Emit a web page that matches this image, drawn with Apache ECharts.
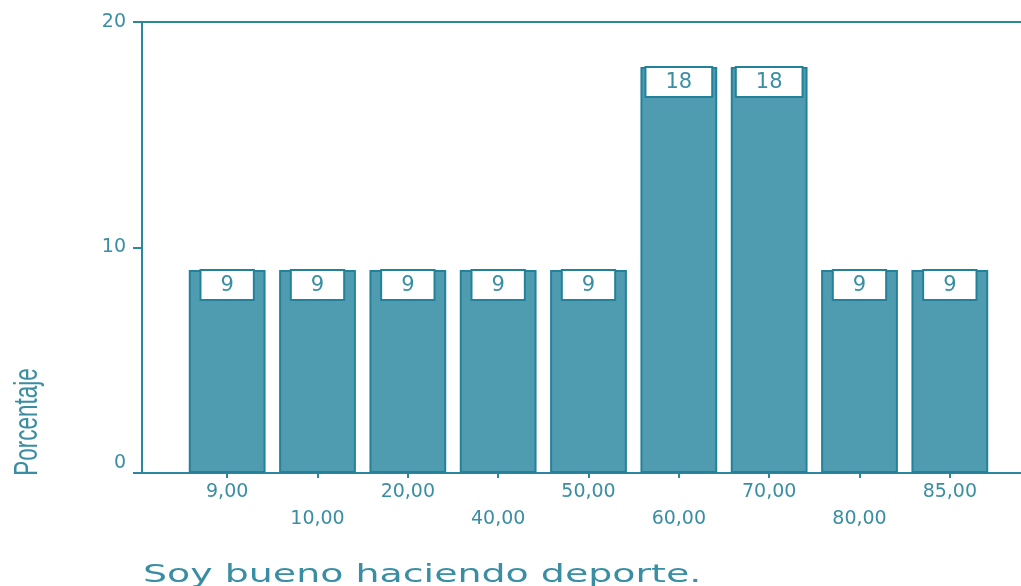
<!DOCTYPE html>
<html>
<head>
<meta charset="utf-8">
<script src="https://cdn.jsdelivr.net/npm/echarts@6/dist/echarts.min.js"></script>
<style>
  html, body { margin: 0; padding: 0; background: #fff; }
  #chart_bar { width: 1021px; height: 586px; }
</style>
</head>
<body>
<div id="chart_bar"></div>
<script>
let categories = ['9,00', '10,00', '20,00', '40,00', '50,00', '60,00', '70,00', '80,00', '85,00'];
let percents = [9, 9, 9, 9, 9, 18, 18, 9, 9];
let yTicks = [0, 10, 20];

let axisColor = '#2b879d';
let textColor = '#3a8ea3';

let chart_bar = document.getElementById("chart_bar");
let myChart = echarts.init(chart_bar);

let option = {
    animation: false,
    grid: [
        // bars
        {left: 182, right: 26, top: 22, bottom: 113},
        // frame (axis lines + y labels)
        {left: 142, right: 0, top: 22, bottom: 113}
    ],
    xAxis: [
        {
            type: 'category',
            gridIndex: 0,
            data: categories,
            axisLine: {show: false},
            axisTick: {show: true, alignWithLabel: true, length: 5, lineStyle: {color: axisColor, width: 2}},
            axisLabel: {
                interval: 0,
                margin: 6,
                color: textColor,
                fontFamily: 'DejaVu Sans',
                fontSize: 19,
                lineHeight: 27,
                formatter: function (v, i) { return i % 2 ? '\n' + v : v; }
            }
        },
        {
            type: 'value', gridIndex: 1, min: 0, max: 1, position: 'bottom',
            axisLine: {show: true, lineStyle: {color: axisColor, width: 2}},
            axisTick: {show: false}, axisLabel: {show: false}, splitLine: {show: false}
        },
        {
            type: 'value', gridIndex: 1, min: 0, max: 1, position: 'top',
            axisLine: {show: true, lineStyle: {color: axisColor, width: 2}},
            axisTick: {show: false}, axisLabel: {show: false}, splitLine: {show: false}
        }
    ],
    yAxis: [
        {
            type: 'value', gridIndex: 0, min: yTicks[0], max: yTicks[yTicks.length - 1], interval: 10,
            show: false
        },
        {
            type: 'value', gridIndex: 1, min: yTicks[0], max: yTicks[yTicks.length - 1], interval: 10,
            axisLine: {show: true, lineStyle: {color: axisColor, width: 2}},
            axisTick: {show: true, length: 9, lineStyle: {color: axisColor, width: 2}},
            splitLine: {show: false},
            axisLabel: {
                margin: 16,
                color: textColor,
                fontFamily: 'DejaVu Sans',
                fontSize: 19,
                formatter: function (v) { return v === 0 ? '{zero|0}' : String(v); },
                rich: {
                    zero: {color: textColor, fontFamily: 'DejaVu Sans', fontSize: 19, padding: [0, 0, 20, 0]}
                }
            }
        }
    ],
    graphic: [
        {
            type: 'text',
            x: 28, y: 422,
            rotation: Math.PI / 2,
            scaleX: 0.66,
            style: {
                text: 'Porcentaje',
                fill: textColor,
                font: '34px "Liberation Sans"',
                align: 'center',
                verticalAlign: 'middle'
            }
        },
        {
            type: 'text',
            x: 143, y: 576,
            scaleX: 1.58,
            style: {
                text: 'Soy bueno haciendo deporte.',
                fill: textColor,
                font: '24px "DejaVu Sans"',
                align: 'left',
                verticalAlign: 'middle'
            }
        }
    ],
    series: [{
        type: 'bar',
        xAxisIndex: 0,
        yAxisIndex: 0,
        data: percents,
        barCategoryGap: '15%',
        itemStyle: {color: '#4f9bb0', borderColor: '#23819a', borderWidth: 2},
        label: {
            show: true,
            position: 'insideTop',
            distance: 1,
            color: textColor,
            fontFamily: 'DejaVu Sans',
            fontSize: 21,
            backgroundColor: '#fff',
            borderColor: '#23819a',
            borderWidth: 2,
            padding: [4, 19, 3, 19]
        }
    }]
};

myChart.setOption(option);
</script>
</body>
</html>
